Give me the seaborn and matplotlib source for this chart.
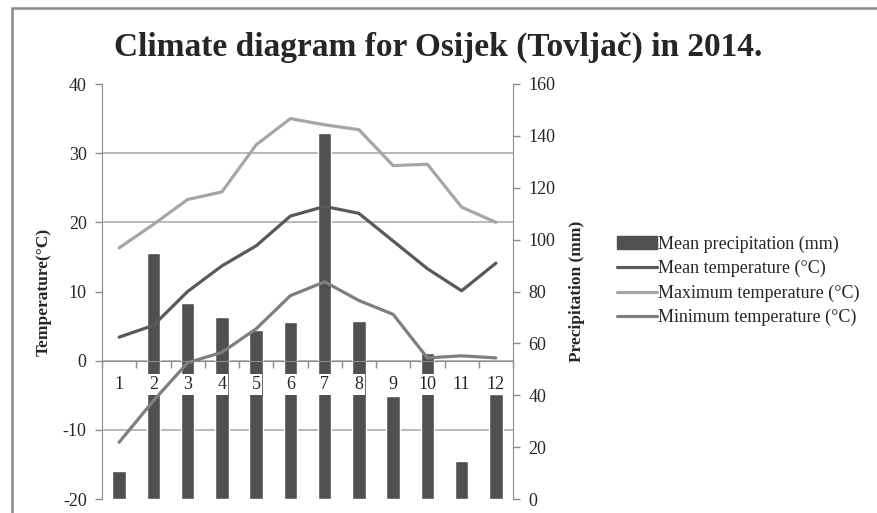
import matplotlib
matplotlib.use("Agg")
import matplotlib.pyplot as plt
import matplotlib.patches as mpatches
import seaborn as sns
import numpy as np
import pandas as pd

# data
months = ['1', '2', '3', '4', '5', '6', '7', '8', '9', '10', '11', '12']
precip = [10.8, 94.7, 75.4, 70.3, 65.1, 68.2, 141.3, 68.5, 39.9, 56.4, 14.6, 40.3]
t_mean = [3.4, 5.1, 10.0, 13.7, 16.6, 20.9, 22.3, 21.3, 17.3, 13.3, 10.1, 14.1]
t_max = [16.3, 19.7, 23.3, 24.4, 31.2, 35.0, 34.1, 33.4, 28.2, 28.4, 22.2, 20.0]
t_min = [-11.8, -5.8, -0.3, 1.2, 4.6, 9.4, 11.4, 8.7, 6.7, 0.4, 0.7, 0.4]

temp_ticks = [-20, -10, 0, 10, 20, 30, 40]
precip_ticks = [0, 20, 40, 60, 80, 100, 120, 140, 160]

series_names = ['Mean temperature (°C)', 'Maximum temperature (°C)', 'Minimum temperature (°C)']
series_colors = ['#595959', '#a6a6a6', '#7f7f7f']

sns.set_style('white')
plt.rcParams['font.family'] = ['Liberation Serif', 'DejaVu Serif']
plt.rcParams['axes.unicode_minus'] = False

df_p = pd.DataFrame({'month': months, 'precip': precip})
pos = np.arange(len(months))
df_t = pd.concat([
    pd.DataFrame({'pos': pos, 'temp': vals, 'series': name})
    for name, vals in zip(series_names, [t_mean, t_max, t_min])
])

fig = plt.figure(figsize=(8.77, 5.13), dpi=100)
ax_p = fig.add_axes([102/877, 1-499/513, 411/877, 415/513])

# bars on precipitation axis (drawn underneath)
sns.barplot(data=df_p, x='month', y='precip', color='#505050', saturation=1,
            width=0.4, ax=ax_p, zorder=2)
ax_p.set_ylim(precip_ticks[0], precip_ticks[-1])
ax_p.set_xlim(-0.5, len(months) - 0.5)

# temperature gridlines behind the bars (mapped onto precip scale)
t_lo, t_hi = temp_ticks[0], temp_ticks[-1]
p_lo, p_hi = precip_ticks[0], precip_ticks[-1]
grid_pos = [p_lo + (t - t_lo) * (p_hi - p_lo) / (t_hi - t_lo) for t in temp_ticks]
ax_p.set_yticks(grid_pos, minor=True)
ax_p.yaxis.grid(True, which='minor', color='#a6a6a6', lw=1.1, zorder=0)
ax_p.yaxis.grid(False, which='major')
ax_p.set_axisbelow(True)
ax_p.tick_params(axis='x', bottom=False, labelbottom=False)
ax_p.set_xlabel('')
for s in ['top', 'bottom', 'left']:
    ax_p.spines[s].set_visible(False)
ax_p.spines['right'].set_color('#8c8c8c')

# temperature axis on top
ax_t = ax_p.twinx()
sns.lineplot(data=df_t, x='pos', y='temp', hue='series', palette=series_colors,
             hue_order=series_names, linewidth=2.3, ax=ax_t, legend=False)
ax_t.set_ylim(t_lo, t_hi)
ax_t.set_xlim(-0.5, len(months) - 0.5)
ax_t.yaxis.tick_left()
ax_t.yaxis.set_label_position('left')
ax_t.set_yticks(temp_ticks)
ax_t.tick_params(axis='y', left=True, right=False, labelright=False, labelleft=True,
                 length=5, width=1, color='#8c8c8c', labelsize=13, pad=6)
ax_t.set_ylabel('Temperature(°C)', fontsize=12.5, fontweight='bold', labelpad=8)

# precip ticks on the right (after twinx, which resets sides)
ax_p.yaxis.tick_right()
ax_p.yaxis.set_label_position('right')
ax_p.set_yticks(precip_ticks)
ax_p.tick_params(axis='y', which='major', right=True, left=False, labelright=True,
                 labelleft=False, length=5, width=1, color='#8c8c8c', labelsize=13, pad=6)
ax_p.tick_params(axis='y', which='minor', length=0, right=False, left=False)
ax_p.set_ylabel('Precipitation (mm)', fontsize=12.5, fontweight='bold', labelpad=10)

ax_t.xaxis.set_visible(True)
ax_t.spines['bottom'].set_position(('data', 0))
ax_t.spines['bottom'].set_color('#8c8c8c')
ax_t.spines['left'].set_color('#8c8c8c')
ax_t.spines['top'].set_visible(False)
ax_t.spines['right'].set_visible(False)
ax_t.set_xticks(pos)
ax_t.set_xticklabels(months)
ax_t.set_xticks(np.arange(-0.5, len(months)), minor=True)
ax_t.tick_params(axis='x', which='major', bottom=True, length=0, labelsize=13, pad=11)
ax_t.tick_params(axis='x', which='minor', bottom=True, length=5, width=1, color='#8c8c8c')
ax_t.set_xlabel('')
for lbl in ax_t.get_xticklabels():
    lbl.set_bbox(dict(facecolor='white', edgecolor='none', pad=1.2))

# title
fig.text(0.5, 1 - 47/513, 'Climate diagram for Osijek (Tovljač) in 2014.', ha='center',
         va='center', fontsize=24, fontweight='bold')

# legend
handles = [mpatches.Patch(color='#505050', label='Mean precipitation (mm)')]
for name, c in zip(series_names, series_colors):
    handles.append(plt.Line2D([], [], color=c, lw=2.3, label=name))
fig.legend(handles=handles, loc='center left', bbox_to_anchor=(610/877, 1 - 281/513),
           frameon=False, fontsize=13, handlelength=2.2, handletextpad=0.05,
           labelspacing=0.4, borderaxespad=0)

# chart border
fig.patches.append(mpatches.Rectangle((12/877, -0.1), 1.2, 1 - 8.5/513 + 0.1,
                                      transform=fig.transFigure, fill=False,
                                      edgecolor='#888888', lw=1.8))

fig.savefig('out.png', dpi=100)
